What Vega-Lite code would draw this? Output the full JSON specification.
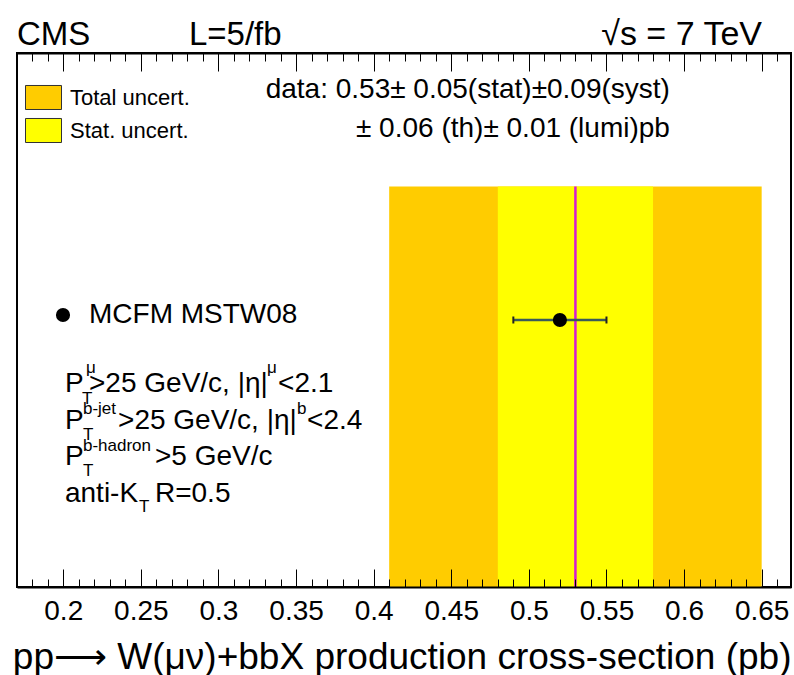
{
  "$schema": "https://vega.github.io/schema/vega-lite/v6.json",
  "width": 774,
  "height": 534,
  "autosize": {"type": "none"},
  "padding": {"left": 17, "top": 53, "right": 3, "bottom": 88},
  "background": "white",
  "config": {
    "view": {"stroke": "black", "strokeWidth": 2},
    "font": "Liberation Sans",
    "text": {"font": "Liberation Sans", "color": "black"}
  },
  "datasets": {
    "bands": [
      {"band": "Total uncert.", "lo": 0.41, "hi": 0.65, "ylo": 0, "yhi": 0.75},
      {"band": "Stat. uncert.", "lo": 0.48, "hi": 0.58, "ylo": 0, "yhi": 0.75}
    ],
    "central": [{"value": 0.53, "ylo": 0, "yhi": 0.75}],
    "model": [{"model": "MCFM MSTW08", "x": 0.52, "lo": 0.49, "hi": 0.55, "y": 0.5}],
    "headLeft": [
      {"label": "CMS", "x": 0.1702, "y": 1.015},
      {"label": "L=5/fb", "x": 0.281, "y": 1.015}
    ],
    "headRight": [{"label": "√s = 7 TeV", "x": 0.6502, "y": 1.015}],
    "dataText": [
      {"label": "data: 0.53± 0.05(stat)±0.09(syst)", "x": 0.5909, "y": 0.9148},
      {"label": "± 0.06 (th)± 0.01 (lumi)pb", "x": 0.5909, "y": 0.8436}
    ],
    "cutMain": [
      {"label": "P", "x": 0.2011, "y": 0.3652},
      {"label": ">25 GeV/c, |η|", "x": 0.2166, "y": 0.3652},
      {"label": "<2.1", "x": 0.3384, "y": 0.3652},
      {"label": "P", "x": 0.2011, "y": 0.2968},
      {"label": ">25 GeV/c, |η|", "x": 0.2353, "y": 0.2968},
      {"label": "<2.4", "x": 0.3571, "y": 0.2968},
      {"label": "P", "x": 0.2011, "y": 0.2285},
      {"label": ">5 GeV/c", "x": 0.2591, "y": 0.2285},
      {"label": "anti-K", "x": 0.2011, "y": 0.1601},
      {"label": "R=0.5", "x": 0.2591, "y": 0.1601}
    ],
    "cutSmall": [
      {"label": "μ", "x": 0.2147, "y": 0.4007},
      {"label": "T", "x": 0.2121, "y": 0.3427},
      {"label": "μ", "x": 0.3313, "y": 0.4007},
      {"label": "b-jet", "x": 0.2127, "y": 0.3249},
      {"label": "T", "x": 0.2127, "y": 0.2753},
      {"label": "b", "x": 0.3506, "y": 0.3249},
      {"label": "b-hadron", "x": 0.2127, "y": 0.2556},
      {"label": "T", "x": 0.2127, "y": 0.2079},
      {"label": "T", "x": 0.2488, "y": 0.1404}
    ]
  },
  "resolve": {"axis": {"x": "independent"}},
  "layer": [
    {
      "data": {"name": "bands"},
      "mark": {"type": "rect"},
      "encoding": {
        "x": {
          "field": "lo", "type": "quantitative",
          "scale": {"domain": [0.1702, 0.6689], "nice": false, "zero": false},
          "axis": {
            "orient": "bottom",
            "values": [0.2, 0.25, 0.3, 0.35, 0.4, 0.45, 0.5, 0.55, 0.6, 0.65],
            "format": ".2~f",
            "tickSize": -18, "tickColor": "black", "tickWidth": 1,
            "domain": true, "domainColor": "black", "domainWidth": 2,
            "labelFontSize": 28, "labelFont": "Liberation Sans", "labelColor": "black",
            "labelBaseline": "alphabetic", "labelPadding": 50, "labelFlush": false, "labelOverlap": false,
            "grid": false, "zindex": 1,
            "title": "pp⟶ W(μν)+bbX production cross-section (pb)",
            "titleFont": "Liberation Sans", "titleFontSize": 37, "titleFontWeight": "normal", "titleColor": "black",
            "titleAnchor": "end", "titleAlign": "right", "titleBaseline": "alphabetic", "titleY": 81
          }
        },
        "x2": {"field": "hi"},
        "y": {"field": "ylo", "type": "quantitative", "scale": {"domain": [0, 1], "nice": false}, "axis": null},
        "y2": {"field": "yhi"},
        "color": {
          "field": "band", "type": "nominal", "sort": null,
          "scale": {"domain": ["Total uncert.", "Stat. uncert."], "range": ["#FFCC00", "#FFFF00"]},
          "legend": {
            "orient": "none", "legendX": 8, "legendY": 26, "title": null, "padding": 0,
            "symbolType": "M-1,-0.667H1V0.667H-1Z", "symbolSize": 1296,
            "symbolStrokeColor": "#333333", "symbolStrokeWidth": 1, "symbolOpacity": 1,
            "labelFontSize": 22, "labelFont": "Liberation Sans", "labelColor": "black",
            "labelOffset": 8, "rowPadding": -2
          }
        }
      }
    },
    {
      "data": {"name": "central"},
      "mark": {"type": "rule", "color": "#d41cd4", "strokeWidth": 2.5},
      "encoding": {
        "x": {
          "field": "value", "type": "quantitative",
          "scale": {"domain": [0.1702, 0.6689], "nice": false, "zero": false},
          "axis": {
            "orient": "bottom",
            "values": [0.18,0.19,0.21,0.22,0.23,0.24,0.26,0.27,0.28,0.29,0.31,0.32,0.33,0.34,0.36,0.37,0.38,0.39,0.41,0.42,0.43,0.44,0.46,0.47,0.48,0.49,0.51,0.52,0.53,0.54,0.56,0.57,0.58,0.59,0.61,0.62,0.63,0.64,0.66],
            "tickSize": -8, "tickColor": "black", "tickWidth": 1,
            "labels": false, "domain": false, "grid": false, "title": null, "zindex": 1
          }
        },
        "y": {"field": "ylo", "type": "quantitative", "scale": {"domain": [0, 1], "nice": false}, "axis": null},
        "y2": {"field": "yhi"}
      }
    },
    {
      "data": {"name": "model"},
      "mark": {"type": "rule", "color": "#3a5a5a", "strokeWidth": 2.5},
      "encoding": {
        "x": {
          "field": "lo", "type": "quantitative",
          "scale": {"domain": [0.1702, 0.6689], "nice": false, "zero": false},
          "axis": {
            "orient": "top",
            "values": [0.2, 0.25, 0.3, 0.35, 0.4, 0.45, 0.5, 0.55, 0.6, 0.65],
            "tickSize": -18, "tickColor": "black", "tickWidth": 1,
            "labels": false, "domain": true, "domainColor": "black", "domainWidth": 2,
            "grid": false, "title": null, "zindex": 1
          }
        },
        "x2": {"field": "hi"},
        "y": {"field": "y", "type": "quantitative", "scale": {"domain": [0, 1], "nice": false}, "axis": null}
      }
    },
    {
      "data": {"name": "model"},
      "mark": {"type": "point", "shape": "M0,-1L0,1", "size": 49, "color": "#222222", "strokeWidth": 2, "opacity": 1},
      "encoding": {
        "x": {"field": "lo", "type": "quantitative", "scale": {"domain": [0.1702, 0.6689], "nice": false, "zero": false}, "axis": null},
        "y": {"field": "y", "type": "quantitative", "scale": {"domain": [0, 1], "nice": false}, "axis": null}
      }
    },
    {
      "data": {"name": "model"},
      "mark": {"type": "point", "shape": "M0,-1L0,1", "size": 49, "color": "#222222", "strokeWidth": 2, "opacity": 1},
      "encoding": {
        "x": {"field": "hi", "type": "quantitative", "scale": {"domain": [0.1702, 0.6689], "nice": false, "zero": false}, "axis": null},
        "y": {"field": "y", "type": "quantitative", "scale": {"domain": [0, 1], "nice": false}, "axis": null}
      }
    },
    {
      "data": {"name": "model"},
      "mark": {"type": "point", "filled": true, "color": "black", "size": 200, "opacity": 1},
      "encoding": {
        "x": {
          "field": "x", "type": "quantitative",
          "scale": {"domain": [0.1702, 0.6689], "nice": false, "zero": false},
          "axis": {
            "orient": "top",
            "values": [0.18,0.19,0.21,0.22,0.23,0.24,0.26,0.27,0.28,0.29,0.31,0.32,0.33,0.34,0.36,0.37,0.38,0.39,0.41,0.42,0.43,0.44,0.46,0.47,0.48,0.49,0.51,0.52,0.53,0.54,0.56,0.57,0.58,0.59,0.61,0.62,0.63,0.64,0.66],
            "tickSize": -8, "tickColor": "black", "tickWidth": 1,
            "labels": false, "domain": false, "grid": false, "title": null, "zindex": 1
          }
        },
        "y": {"field": "y", "type": "quantitative", "scale": {"domain": [0, 1], "nice": false}, "axis": null},
        "shape": {
          "field": "model", "type": "nominal",
          "scale": {"domain": ["MCFM MSTW08"], "range": ["circle"]},
          "legend": {
            "orient": "none", "legendX": 32, "legendY": 248, "title": null, "padding": 0,
            "symbolSize": 200, "symbolFillColor": "black", "symbolStrokeColor": "black", "symbolOpacity": 1,
            "labelFontSize": 28, "labelFont": "Liberation Sans", "labelColor": "black", "labelOffset": 12, "labelLimit": 0
          }
        }
      }
    },
    {
      "data": {"name": "headLeft"},
      "mark": {"type": "text", "align": "left", "baseline": "alphabetic", "fontSize": 33},
      "encoding": {
        "x": {"field": "x", "type": "quantitative", "scale": {"domain": [0.1702, 0.6689], "nice": false, "zero": false}, "axis": null},
        "y": {"field": "y", "type": "quantitative", "scale": {"domain": [0, 1], "nice": false}, "axis": null},
        "text": {"field": "label"}
      }
    },
    {
      "data": {"name": "headRight"},
      "mark": {"type": "text", "align": "right", "baseline": "alphabetic", "fontSize": 34},
      "encoding": {
        "x": {"field": "x", "type": "quantitative", "scale": {"domain": [0.1702, 0.6689], "nice": false, "zero": false}, "axis": null},
        "y": {"field": "y", "type": "quantitative", "scale": {"domain": [0, 1], "nice": false}, "axis": null},
        "text": {"field": "label"}
      }
    },
    {
      "data": {"name": "dataText"},
      "mark": {"type": "text", "align": "right", "baseline": "alphabetic", "fontSize": 28},
      "encoding": {
        "x": {"field": "x", "type": "quantitative", "scale": {"domain": [0.1702, 0.6689], "nice": false, "zero": false}, "axis": null},
        "y": {"field": "y", "type": "quantitative", "scale": {"domain": [0, 1], "nice": false}, "axis": null},
        "text": {"field": "label"}
      }
    },
    {
      "data": {"name": "cutMain"},
      "mark": {"type": "text", "align": "left", "baseline": "alphabetic", "fontSize": 28},
      "encoding": {
        "x": {"field": "x", "type": "quantitative", "scale": {"domain": [0.1702, 0.6689], "nice": false, "zero": false}, "axis": null},
        "y": {"field": "y", "type": "quantitative", "scale": {"domain": [0, 1], "nice": false}, "axis": null},
        "text": {"field": "label"}
      }
    },
    {
      "data": {"name": "cutSmall"},
      "mark": {"type": "text", "align": "left", "baseline": "alphabetic", "fontSize": 17},
      "encoding": {
        "x": {"field": "x", "type": "quantitative", "scale": {"domain": [0.1702, 0.6689], "nice": false, "zero": false}, "axis": null},
        "y": {"field": "y", "type": "quantitative", "scale": {"domain": [0, 1], "nice": false}, "axis": null},
        "text": {"field": "label"}
      }
    }
  ]
}
